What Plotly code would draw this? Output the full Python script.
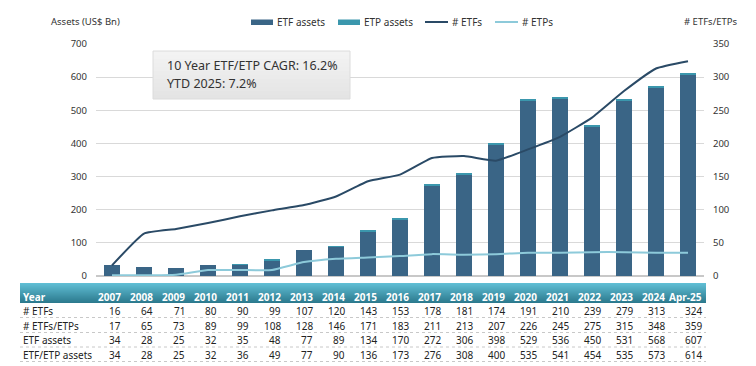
import plotly.graph_objects as go

years = ["2007","2008","2009","2010","2011","2012","2013","2014","2015","2016",
         "2017","2018","2019","2020","2021","2022","2023","2024","Apr-25"]
n_etfs = [16,64,71,80,90,99,107,120,143,153,178,181,174,191,210,239,279,313,324]
n_etfs_etps = [17,65,73,89,99,108,128,146,171,183,211,213,207,226,245,275,315,348,359]
n_etps = [1,1,2,9,9,9,21,26,28,30,33,32,33,35,35,36,36,35,35]
etf_assets = [34,28,25,32,35,48,77,89,134,170,272,306,398,529,536,450,531,568,607]
etp_assets = [0,0,0,0,1,1,0,1,2,3,4,2,2,6,5,4,4,5,7]
etf_etp_assets = [34,28,25,32,36,49,77,90,136,173,276,308,400,535,541,454,535,573,614]

row_labels = ["# ETFs", "# ETFs/ETPs", "ETF assets", "ETF/ETP assets"]
row_values = [n_etfs, n_etfs_etps, etf_assets, etf_etp_assets]

W, H = 756, 366
L, R, T, B = 88, 60, 36, 98
PW, PH = W - L - R, H - T - B

def px_x(px):
    return (px - L) / PW

def px_y(py):
    return (H - B - py) / PH

FONT = "Noto Sans"
DARK = "#3a6586"
TEAL = "#3b97ad"
NAVY = "#2a4a66"
LIGHT = "#8dcada"

idx = list(range(len(years)))

fig = go.Figure()
fig.add_trace(go.Bar(x=idx, y=etf_assets, name="ETF assets", marker_color=DARK,
                     marker_line_width=0, yaxis="y", showlegend=False))
fig.add_trace(go.Bar(x=idx, y=etp_assets, name="ETP assets", marker_color=TEAL,
                     marker_line_width=0, yaxis="y", showlegend=False))
fig.add_trace(go.Scatter(x=idx, y=n_etfs, name="# ETFs", mode="lines",
                         line=dict(color=NAVY, width=2, shape="spline", smoothing=0.4),
                         yaxis="y2", showlegend=False))
fig.add_trace(go.Scatter(x=idx, y=n_etps, name="# ETPs", mode="lines",
                         line=dict(color=LIGHT, width=2, shape="spline", smoothing=0.4),
                         yaxis="y2", showlegend=False))

shapes = []
annotations = []

# manual legend
leg = [("ETF assets", DARK, "rect", 243, 265),
       ("ETP assets", TEAL, "rect", 330, 352),
       ("# ETFs", NAVY, "line", 417, 440),
       ("# ETPs", LIGHT, "line", 487, 510)]
for name, col, kind, a, b in leg:
    if kind == "rect":
        shapes.append(dict(type="rect", xref="paper", yref="paper",
                           x0=px_x(a), x1=px_x(b), y0=px_y(17), y1=px_y(11.5),
                           fillcolor=col, line=dict(width=0)))
    else:
        shapes.append(dict(type="line", xref="paper", yref="paper",
                           x0=px_x(a), x1=px_x(b), y0=px_y(14), y1=px_y(14),
                           line=dict(color=col, width=2)))
    annotations.append(dict(xref="paper", yref="paper", x=px_x(b + 2), y=px_y(14),
                            text=name, showarrow=False, xanchor="left", yanchor="middle",
                            font=dict(family=FONT, size=10, color="#333333")))

# text box with subtle vertical gradient
bx0, bx1, by0, by1 = 145, 342, 43, 91
gsteps = 12
for i in range(gsteps):
    t = i / (gsteps - 1)
    g = int(round(243 - (243 - 228) * t))
    ya = by0 + (by1 - by0) * i / gsteps
    yb = by0 + (by1 - by0) * (i + 1) / gsteps
    shapes.append(dict(type="rect", xref="paper", yref="paper",
                       x0=px_x(bx0), x1=px_x(bx1), y0=px_y(yb), y1=px_y(ya),
                       fillcolor="rgb(%d,%d,%d)" % (g, g, g), line=dict(width=0),
                       layer="above"))
shapes.append(dict(type="rect", xref="paper", yref="paper",
                   x0=px_x(bx0), x1=px_x(bx1), y0=px_y(by1), y1=px_y(by0),
                   fillcolor="rgba(0,0,0,0)", line=dict(color="#dcdcdc", width=1),
                   layer="above"))
annotations.append(dict(xref="paper", yref="paper", x=px_x(157), y=px_y(57),
                        text="10 Year ETF/ETP CAGR: 16.2%", showarrow=False,
                        xanchor="left", yanchor="middle",
                        font=dict(family=FONT, size=12.5, color="#333333")))
annotations.append(dict(xref="paper", yref="paper", x=px_x(157), y=px_y(75),
                        text="YTD 2025: 7.2%", showarrow=False,
                        xanchor="left", yanchor="middle",
                        font=dict(family=FONT, size=12.5, color="#333333")))

# axis titles
annotations.append(dict(xref="paper", yref="paper", x=px_x(77), y=px_y(13),
                        text="Assets (US$ Bn)", showarrow=False,
                        xanchor="center", yanchor="middle",
                        font=dict(family=FONT, size=9.5, color="#333333")))
annotations.append(dict(xref="paper", yref="paper", x=px_x(702), y=px_y(13),
                        text="# ETFs/ETPs", showarrow=False,
                        xanchor="center", yanchor="middle",
                        font=dict(family=FONT, size=9.5, color="#333333")))

# table header gradient
tx0, tx1 = px_x(12), px_x(698)
hy0, hy1 = 275, 295
steps = 20
c_top = (96, 190, 212)
c_bot = (44, 122, 142)
for i in range(steps):
    t = i / (steps - 1)
    c = tuple(int(round(c_top[k] + (c_bot[k] - c_top[k]) * t)) for k in range(3))
    ya = hy0 + (hy1 - hy0) * i / steps
    yb = hy0 + (hy1 - hy0) * (i + 1) / steps
    shapes.append(dict(type="rect", xref="paper", yref="paper",
                       x0=tx0, x1=tx1, y0=px_y(yb), y1=px_y(ya),
                       fillcolor="rgb(%d,%d,%d)" % c, line=dict(width=0), layer="below"))

def col_shift(i):
    return 16 if i == len(years) - 1 else 11

header_y = 289
annotations.append(dict(xref="paper", yref="paper", x=px_x(13), y=px_y(header_y),
                        text="<b>Year</b>", showarrow=False, xanchor="left", yanchor="middle",
                        font=dict(family=FONT, size=10, color="white")))
for i, yr in enumerate(years):
    annotations.append(dict(xref="x", yref="paper", x=i, y=px_y(header_y),
                            xshift=col_shift(i),
                            text="<b>%s</b>" % yr, showarrow=False, xanchor="right",
                            yanchor="middle",
                            font=dict(family=FONT, size=10, color="white")))

row_ys = [303, 318, 332, 347]
line_ys = [309.5, 324.5, 339, 353.5]
for lab, vals, ry, ly in zip(row_labels, row_values, row_ys, line_ys):
    annotations.append(dict(xref="paper", yref="paper", x=px_x(13), y=px_y(ry),
                            text=lab, showarrow=False, xanchor="left", yanchor="middle",
                            font=dict(family=FONT, size=10, color="#222222")))
    for i, v in enumerate(vals):
        annotations.append(dict(xref="x", yref="paper", x=i, y=px_y(ry),
                                xshift=col_shift(i),
                                text=str(v), showarrow=False, xanchor="right",
                                yanchor="middle",
                                font=dict(family=FONT, size=10, color="#222222")))
    shapes.append(dict(type="line", xref="paper", yref="paper",
                       x0=tx0, x1=tx1, y0=px_y(ly), y1=px_y(ly),
                       line=dict(color="#c8c8c8", width=1, dash="dot")))

fig.update_layout(
    width=W, height=H,
    margin=dict(l=L, r=R, t=T, b=B, autoexpand=False),
    paper_bgcolor="white", plot_bgcolor="white",
    barmode="stack", bargap=0.5,
    font=dict(family=FONT, size=10, color="#333333"),
    showlegend=False,
    xaxis=dict(range=[-0.5, len(years) - 0.5], autorange=False, showticklabels=False,
               showgrid=False, showline=False, zeroline=False, ticks=""),
    yaxis=dict(range=[0, 700], dtick=100, showgrid=True, gridcolor="#d9d9d9",
               gridwidth=1, zeroline=True, zerolinecolor="#c8c8c8", showline=False,
               ticks="", ticklabelstandoff=8,
               tickfont=dict(family=FONT, size=9.5, color="#333333")),
    yaxis2=dict(range=[0, 350], dtick=50, overlaying="y", side="right",
                showgrid=False, zeroline=False, showline=False, ticks="",
                ticklabelstandoff=8,
                tickfont=dict(family=FONT, size=9.5, color="#333333")),
    shapes=shapes,
    annotations=annotations,
)

fig.write_html("out.html")
